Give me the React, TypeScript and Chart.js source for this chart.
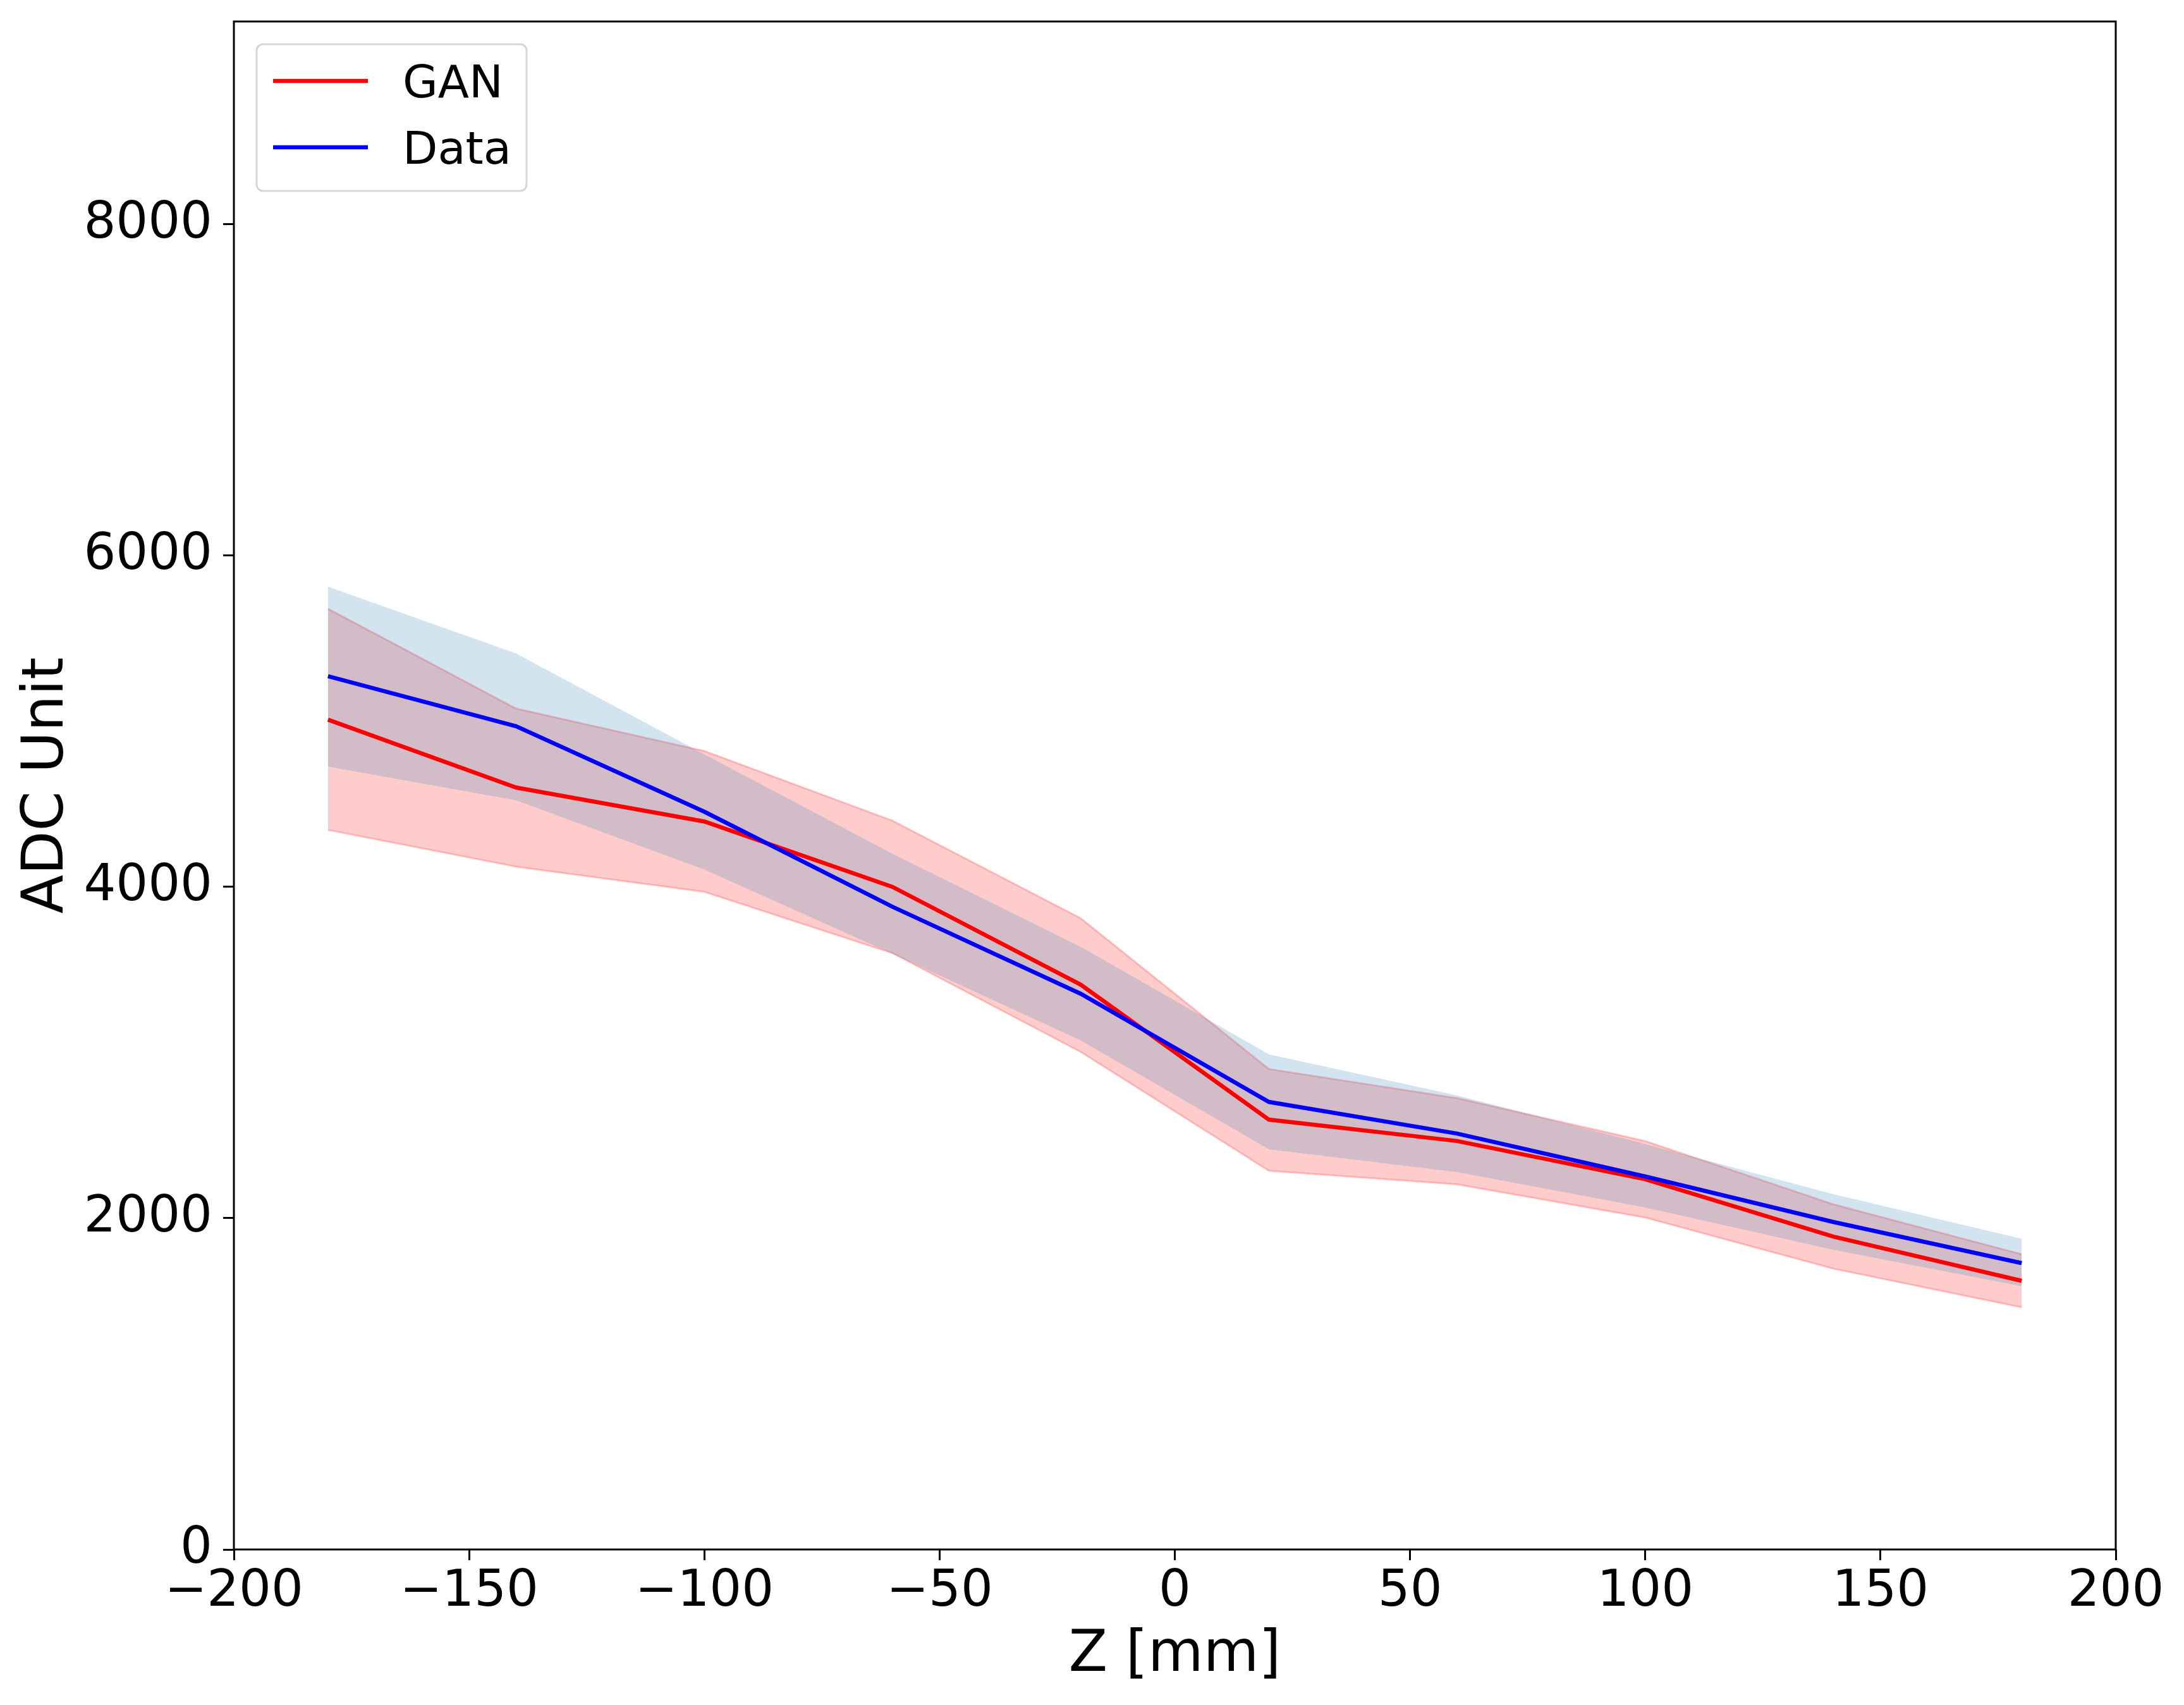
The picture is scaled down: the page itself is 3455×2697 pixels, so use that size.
import { useEffect, useRef } from 'react';
import { Chart, registerables } from 'chart.js';

Chart.register(...registerables);

// z positions of the measurements [mm]
const zPositions = [-180, -140, -100, -60, -20, 20, 60, 100, 140, 180];

// GAN mean and its band
const ganMean = [5010, 4600, 4395, 4000, 3410, 2595, 2466, 2235, 1889, 1622];
const ganUpper = [5680, 5077, 4821, 4400, 3811, 2901, 2725, 2466, 2084, 1783];
const ganLower = [4344, 4122, 3970, 3600, 3004, 2286, 2204, 2004, 1695, 1462];

// Data mean and its band
const dataMean = [5272, 4970, 4454, 3880, 3355, 2702, 2511, 2252, 1977, 1729];
const dataUpper = [5813, 5409, 4800, 4200, 3638, 2989, 2741, 2447, 2145, 1876];
const dataLower = [4727, 4523, 4105, 3596, 3073, 2416, 2279, 2065, 1809, 1590];

const xTicks = [-200, -150, -100, -50, 0, 50, 100, 150, 200];
const yTicks = [0, 2000, 4000, 6000, 8000];
const legendLabels = ['GAN', 'Data'];

const FONT = "'DejaVu Sans', sans-serif";

const toPoints = (ys: number[]) => zPositions.map((x, i) => ({ x, y: ys[i] }));
const fmt = (v: number) => String(v).replace('-', '\u2212');

// matplotlib-like frame and legend inside the axes
const frameAndLegend = {
  id: 'frameAndLegend',
  afterDraw(chart: Chart) {
    const { ctx, chartArea: a } = chart;
    ctx.save();
    ctx.strokeStyle = '#000';
    ctx.lineWidth = 3;
    ctx.strokeRect(a.left, a.top, a.right - a.left, a.bottom - a.top);

    const bx = a.left + 36;
    const by = a.top + 36;
    ctx.beginPath();
    ctx.roundRect(bx, by, 427, 232, 10);
    ctx.fillStyle = 'rgba(255,255,255,0.8)';
    ctx.fill();
    ctx.strokeStyle = '#d6d6d6';
    ctx.lineWidth = 3;
    ctx.stroke();

    ctx.font = `72px ${FONT}`;
    ctx.textBaseline = 'alphabetic';
    ctx.textAlign = 'left';
    legendLabels.forEach((label, i) => {
      const ds = chart.data.datasets.find(d => d.label === label);
      if (!ds) return;
      const ly = by + 58 + i * 105;
      ctx.beginPath();
      ctx.moveTo(bx + 26, ly);
      ctx.lineTo(bx + 176, ly);
      ctx.strokeStyle = ds.borderColor as string;
      ctx.lineWidth = 6.5;
      ctx.stroke();
      ctx.fillStyle = '#000';
      ctx.fillText(label, bx + 231, ly + 26);
    });
    ctx.restore();
  },
};

export default function App() {
  const chartRef = useRef<HTMLCanvasElement>(null);
  const chartInstance = useRef<Chart | null>(null);

  useEffect(() => {
    if (!chartRef.current) return;
    if (chartInstance.current) chartInstance.current.destroy();
    const ctx = chartRef.current.getContext('2d');
    if (!ctx) return;

    const line = { pointRadius: 0, tension: 0, borderWidth: 6.5, fill: false };

    chartInstance.current = new Chart(ctx, {
      type: 'line',
      data: {
        datasets: [
          { ...line, label: 'Data', data: toPoints(dataMean), borderColor: '#0000ff' },
          { ...line, label: 'GAN', data: toPoints(ganMean), borderColor: '#ff0000' },
          {
            label: 'Data band',
            data: toPoints(dataUpper),
            pointRadius: 0,
            tension: 0,
            borderWidth: 0,
            borderColor: 'transparent',
            backgroundColor: 'rgba(31,119,180,0.2)',
            fill: '+1',
          },
          {
            label: 'Data band low',
            data: toPoints(dataLower),
            pointRadius: 0,
            tension: 0,
            borderWidth: 0,
            borderColor: 'transparent',
            fill: false,
          },
          {
            label: 'GAN band',
            data: toPoints(ganUpper),
            pointRadius: 0,
            tension: 0,
            borderWidth: 3,
            borderColor: 'rgba(255,0,0,0.2)',
            backgroundColor: 'rgba(255,0,0,0.2)',
            fill: '+1',
          },
          {
            label: 'GAN band low',
            data: toPoints(ganLower),
            pointRadius: 0,
            tension: 0,
            borderWidth: 3,
            borderColor: 'rgba(255,0,0,0.2)',
            fill: false,
          },
        ],
      },
      options: {
        animation: false,
        responsive: true,
        maintainAspectRatio: false,
        devicePixelRatio: 1,
        layout: { padding: { top: 34, right: 108, left: 0, bottom: 0 } },
        plugins: {
          legend: { display: false },
          tooltip: { enabled: false },
        },
        scales: {
          x: {
            type: 'linear',
            min: -200,
            max: 200,
            afterBuildTicks: (scale) => {
              scale.ticks = xTicks.map(value => ({ value }));
            },
            afterFit: (scale) => {
              scale.height = 246;
              scale.paddingLeft = 0;
              scale.paddingRight = 0;
            },
            border: { display: false },
            grid: {
              drawOnChartArea: false,
              drawTicks: true,
              tickLength: 17,
              tickWidth: 3,
              color: '#000',
            },
            ticks: {
              color: '#000',
              padding: 3,
              maxRotation: 0,
              autoSkip: false,
              font: { family: FONT, size: 80 },
              callback: (v) => fmt(Number(v)),
            },
            title: {
              display: true,
              text: 'Z [mm]',
              color: '#000',
              font: { family: FONT, size: 90 },
              padding: { top: 0, bottom: 23 },
            },
          },
          y: {
            type: 'linear',
            min: 0,
            max: 9225,
            afterBuildTicks: (scale) => {
              scale.ticks = yTicks.map(value => ({ value }));
            },
            afterFit: (scale) => {
              scale.width = 370;
              scale.paddingTop = 0;
              scale.paddingBottom = 0;
            },
            border: { display: false },
            grid: {
              drawOnChartArea: false,
              drawTicks: true,
              tickLength: 17,
              tickWidth: 3,
              color: '#000',
            },
            ticks: {
              color: '#000',
              padding: 17,
              autoSkip: false,
              font: { family: FONT, size: 80 },
              callback: (v) => fmt(Number(v)),
            },
            title: {
              display: true,
              text: 'ADC Unit',
              color: '#000',
              font: { family: FONT, size: 90 },
              padding: { top: 22, bottom: 0 },
            },
          },
        },
      },
      plugins: [frameAndLegend],
    });

    return () => {
      if (chartInstance.current) {
        chartInstance.current.destroy();
        chartInstance.current = null;
      }
    };
  }, []);

  return (
    <div style={{ position: 'fixed', left: 0, top: 0, width: '3455px', height: '2697px', background: '#fff' }}>
      <canvas ref={chartRef}></canvas>
    </div>
  );
}
